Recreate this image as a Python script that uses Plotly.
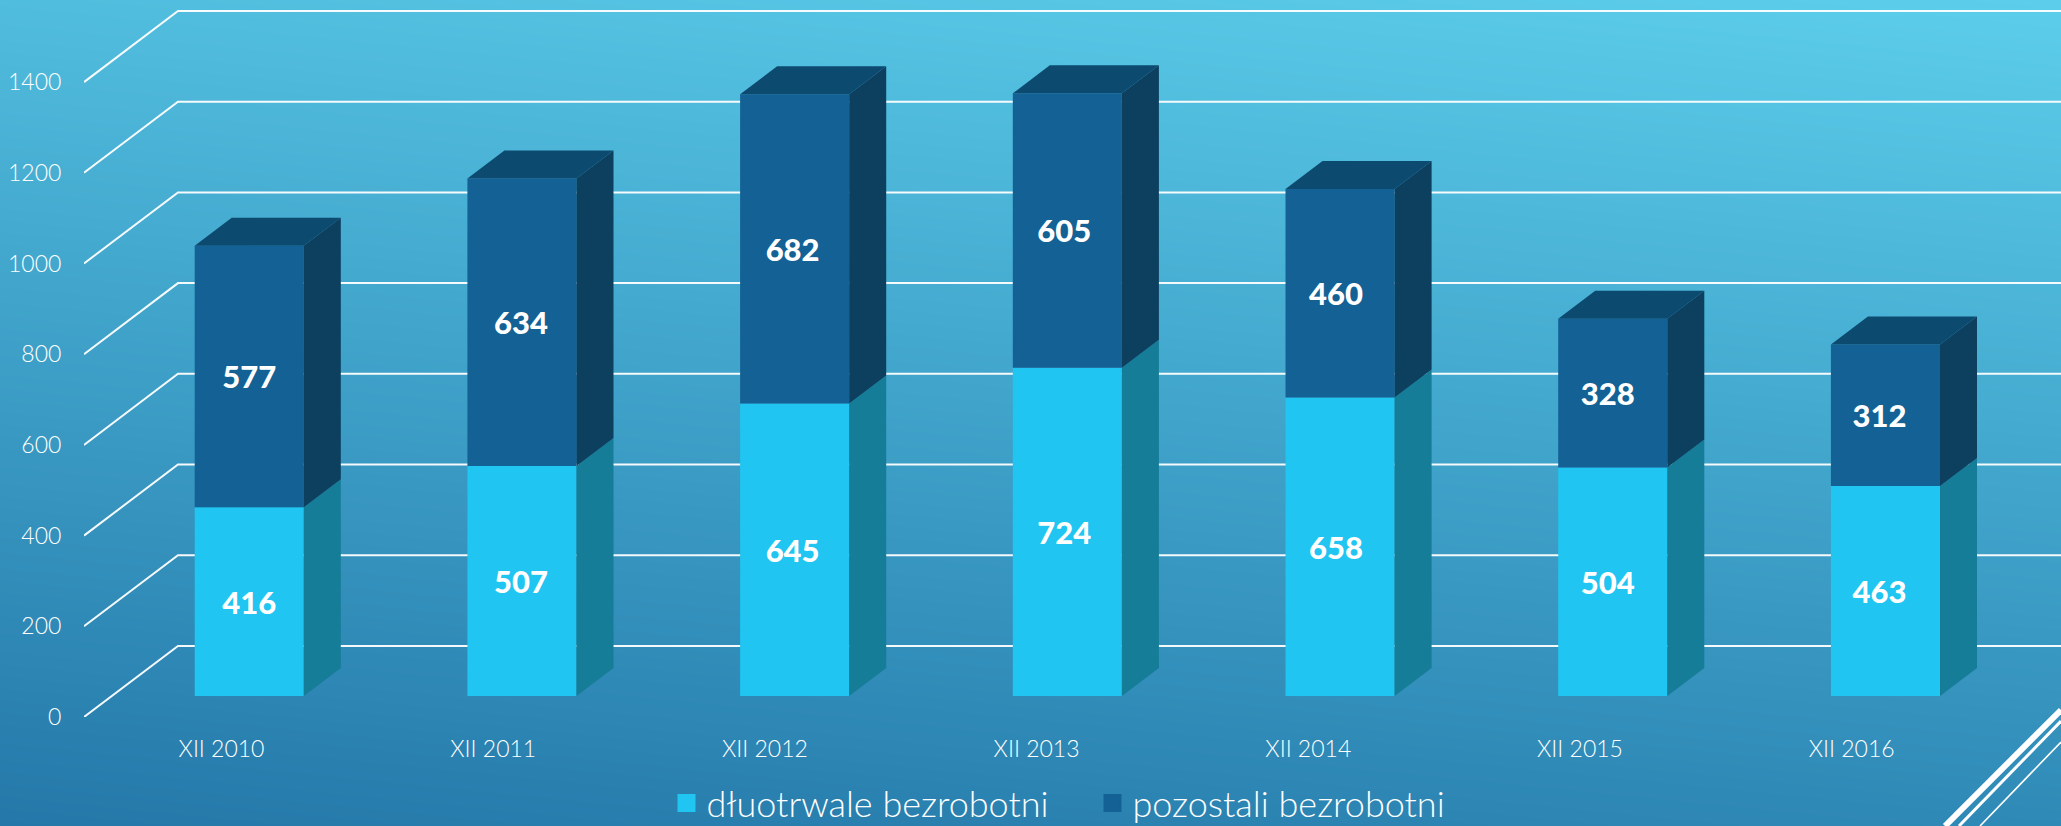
import base64, struct, zlib
import numpy as np
import plotly.graph_objects as go

# ---- data ----
categories = ["XII 2010", "XII 2011", "XII 2012", "XII 2013", "XII 2014", "XII 2015", "XII 2016"]
long_term = [416, 507, 645, 724, 658, 504, 463]
others = [577, 634, 682, 605, 460, 328, 312]
y_ticks = [0, 200, 400, 600, 800, 1000, 1200, 1400]
name_long = "dłuotrwale bezrobotni"
name_other = "pozostali bezrobotni"

# ---- style ----
W, H = 2061, 826
M_L, M_B = 84, 109
FONT = "Lato"
C_LONG, C_LONG_SIDE = "#20C5F1", "#157D97"
C_OTHER, C_OTHER_SIDE, C_OTHER_TOP = "#146195", "#0D3F5F", "#0D4A70"
DX, DY = 0.1357, 61.7       # one bar depth, in axis units
BAR_D, GRID_D = 0.75, 2.54  # bar front / wall position, in bar depths
BAR_W = 0.4
LABEL_PITCH = 0.9963        # labels are spaced a touch tighter than the bars
LABEL_DROP = 9              # value labels sit slightly below segment centres


def background():
    top_right = np.array([0x5C, 0xCE, 0xEB], float)
    bottom_left = np.array([0x24, 0x78, 0xA9], float)
    yy, xx = np.mgrid[0:H, 0:W]
    t = ((H - yy) / H * 0.8 + xx / W * 0.2)[..., None]
    img = (bottom_left + t * (top_right - bottom_left)).round().astype(np.uint8)
    raw = b"".join(b"\x00" + row.tobytes() for row in img)

    def chunk(tag, payload):
        return struct.pack(">I", len(payload)) + tag + payload + struct.pack(">I", zlib.crc32(tag + payload))

    png = (b"\x89PNG\r\n\x1a\n" + chunk(b"IHDR", struct.pack(">IIBBBBB", W, H, 8, 2, 0, 0, 0))
           + chunk(b"IDAT", zlib.compress(raw, 9)) + chunk(b"IEND", b""))
    return "data:image/png;base64," + base64.b64encode(png).decode()


positions = np.arange(len(categories))
bar_x = positions + BAR_D * DX
label_x = positions * LABEL_PITCH + BAR_D * DX
base0 = BAR_D * DY
base_long = [base0] * len(categories)
base_other = [base0 + v for v in long_term]


def side_poly(xs, bottoms, heights):
    px, py = [], []
    for x, b, h in zip(xs, bottoms, heights):
        r = x + BAR_W / 2
        px += [r, r + DX, r + DX, r, r, None]
        py += [b, b + DY, b + h + DY, b + h, b, None]
    return px, py


def top_poly(xs, tops):
    px, py = [], []
    for x, t in zip(xs, tops):
        l, r = x - BAR_W / 2, x + BAR_W / 2
        px += [l, r, r + DX, l + DX, l, None]
        py += [t, t, t + DY, t + DY, t, None]
    return px, py


fig = go.Figure()
for vals, bases, color in [(long_term, base_long, C_LONG), (others, base_other, C_OTHER)]:
    fig.add_bar(x=bar_x, y=vals, base=bases, width=BAR_W, marker=dict(color=color, line=dict(width=0)),
                showlegend=False, hoverinfo="skip")

tops = [b + v for b, v in zip(base_other, others)]
polys = [
    (side_poly(bar_x, base_long, long_term), C_LONG_SIDE),
    (side_poly(bar_x, base_other, others), C_OTHER_SIDE),
    (top_poly(bar_x, tops), C_OTHER_TOP),
]
for (px_, py_), color in polys:
    fig.add_scatter(x=px_, y=py_, mode="lines", fill="toself", fillcolor=color, line=dict(width=0),
                    showlegend=False, hoverinfo="skip")

for vals, bases in [(long_term, base_long), (others, base_other)]:
    fig.add_scatter(x=label_x, y=[b + v / 2 - LABEL_DROP for b, v in zip(bases, vals)], mode="text",
                    text=[str(v) for v in vals], textposition="middle center",
                    textfont=dict(family=FONT, size=31, color="white", weight=900),
                    showlegend=False, hoverinfo="skip")

for name, color in [(name_long, C_LONG), (name_other, C_OTHER)]:
    fig.add_scatter(x=[None], y=[None], mode="markers", name=name,
                    marker=dict(symbol="square", size=16, color=color, line=dict(color=color, width=2)))

shapes = []
x_end = len(categories) + 1
for t in y_ticks:
    x0, x1 = -0.5042, -0.5042 + GRID_D * DX
    y1 = t + GRID_D * DY
    shapes.append(dict(type="path", xref="x", yref="y", layer="below",
                       path=f"M {x0} {t} L {x1} {y1} L {x_end} {y1}",
                       line=dict(color="rgba(255,255,255,0.95)", width=2)))


# decorative corner stripes (paper coordinates of the page corner)
def px(x):
    return (x - M_L) / (W - M_L)


def py(y):
    return (H - M_B - y) / (H - M_B)


for (x0, y0, x1, y1, w) in [(1945, 826, 2061, 710, 6), (1959, 826, 2061, 721, 3), (1980, 826, 2061, 742, 1.6)]:
    shapes.append(dict(type="line", xref="paper", yref="paper", layer="above",
                       x0=px(x0), y0=py(y0), x1=px(x1), y1=py(y1), line=dict(color="white", width=w)))

fig.update_layout(
    width=W, height=H, margin=dict(l=M_L, r=0, t=0, b=M_B, pad=0, autoexpand=False),
    paper_bgcolor="rgba(0,0,0,0)", plot_bgcolor="rgba(0,0,0,0)",
    barmode="overlay", hovermode=False, shapes=shapes,
    images=[dict(source=background(), xref="paper", yref="paper", x=px(0), y=py(0),
                 sizex=px(W) - px(0), sizey=py(0) - py(H), xanchor="left", yanchor="top",
                 sizing="stretch", layer="below")],
    font=dict(family=FONT, color="white"),
    xaxis=dict(range=[-0.5042, 6.7455], tickmode="array", tickvals=positions * LABEL_PITCH, ticktext=categories,
               showgrid=False, zeroline=False, showline=False, ticks="outside", ticklen=11,
               tickcolor="rgba(0,0,0,0)", tickfont=dict(family=FONT, size=23, color="white", weight=300)),
    yaxis=dict(range=[0, 1581], tickmode="array", tickvals=y_ticks, ticktext=[str(t) for t in y_ticks],
               showgrid=False, zeroline=False, showline=False, ticks="outside", ticklen=17,
               tickcolor="rgba(0,0,0,0)", tickfont=dict(family=FONT, size=23, color="white", weight=300)),
    legend=dict(orientation="h", x=px(666.5), xanchor="left", y=py(803), yanchor="middle",
                bgcolor="rgba(0,0,0,0)", font=dict(family=FONT, size=36, color="white", weight=300),
                entrywidth=381, entrywidthmode="pixels",
                itemclick=False, itemdoubleclick=False),
)

fig.write_html("out.html", config=dict(displayModeBar=False, responsive=False),
               post_script="document.body.style.margin='0';document.body.style.overflow='hidden';")
